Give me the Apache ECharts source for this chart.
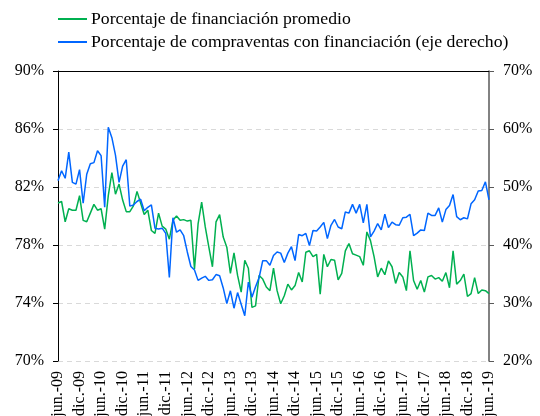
<!DOCTYPE html>
<html>
<head>
<meta charset="utf-8">
<script src="https://cdn.jsdelivr.net/npm/echarts@6/dist/echarts.min.js"></script>
<style>
html,body{margin:0;padding:0;background:#fff;}
#chart{width:540px;height:416px;}
</style>
</head>
<body>
<div id="chart"></div>
<script>
const monthNames = ['ene.','feb.','mar.','abr.','may.','jun.','jul.','ago.','sep.','oct.','nov.','dic.'];
const categories = [];
for (let i = 0; i < 121; i++) {
  const m = (5 + i) % 12;
  const y = 9 + Math.floor((5 + i) / 12);
  categories.push(monthNames[m] + '-' + String(y).padStart(2, '0'));
}

const seriesNames = ['Porcentaje de financiación promedio', 'Porcentaje de compraventas con financiación (eje derecho)'];

// Left axis (%)
const financiacionPromedio = [
  80.9, 81.0, 79.6, 80.5, 80.4, 80.4, 81.4, 79.7, 79.6, 80.2,
  80.8, 80.4, 80.5, 79.1, 81.4, 83.0, 81.5, 82.2, 81.1, 80.3,
  80.3, 80.7, 81.7, 80.9, 80.1, 80.4, 79.0, 78.8, 80.2, 79.3,
  79.1, 78.4, 79.7, 80.0, 79.7, 79.75, 79.65, 79.7, 76.35, 79.45,
  80.95, 79.25, 77.85, 76.5, 79.6, 80.1, 78.55, 77.85, 76.05, 77.45,
  75.9, 74.75, 76.95, 76.4, 73.7, 73.8, 75.9, 75.65, 75.1, 74.85,
  76.4, 74.85, 73.95, 74.5, 75.3, 74.9, 75.2, 76.1, 75.45, 77.5,
  77.6, 77.2, 77.35, 74.6, 77.35, 76.5, 77.0, 76.95, 75.6, 76.05,
  77.6, 78.1, 77.4, 77.3, 77.2, 76.6, 78.9, 78.3, 77.2, 75.8,
  76.4, 75.95, 76.9, 76.5, 75.35, 76.1, 75.8, 74.85, 77.6, 75.55,
  74.95, 75.55, 74.75, 75.8, 75.9, 75.65, 75.75, 75.5, 76.1, 75.05,
  77.6, 75.3, 75.55, 76.0, 74.45, 74.65, 75.75, 74.65, 74.9, 74.85, 74.65
];

// Right axis (%)
const compraventasFinanciacion = [
  51.1, 52.8, 51.5, 56.0, 50.8, 50.5, 53.0, 47.2, 52.2, 54.0,
  54.2, 56.25, 55.4, 46.5, 60.3, 58.5, 55.5, 50.8, 53.6, 54.7,
  46.7, 46.9, 47.5, 47.9, 45.9, 46.5, 46.9, 42.9, 42.75, 42.9,
  42.0, 34.4, 44.7, 42.2, 42.6, 41.6, 38.8, 36.3, 35.7, 33.9,
  34.3, 34.6, 33.9, 34.0, 34.9, 34.7, 32.6, 29.9, 32.1, 29.1,
  31.8, 29.8, 27.8, 33.6, 31.0, 32.8, 34.4, 37.3, 37.3, 36.5,
  38.2, 38.8, 38.6, 37.0, 38.6, 39.7, 37.3, 41.8, 41.6, 42.0,
  39.9, 42.5, 42.4, 43.1, 43.9, 41.1, 43.4, 44.4, 43.1, 42.8,
  45.7, 45.5, 47.0, 45.5, 47.0, 43.8, 47.0, 41.4, 42.4, 43.7,
  42.6, 45.3, 43.0, 43.95, 43.5, 43.4, 44.7, 44.8, 45.3, 41.6,
  42.05, 42.6, 42.5, 45.5, 45.1, 45.1, 46.4, 43.95, 46.1, 46.8,
  48.7, 44.9, 44.35, 44.7, 44.5, 47.1, 47.8, 49.3, 49.4, 50.9, 47.8
];

const FONT = '"Liberation Serif", "Times New Roman", serif';
const chart = echarts.init(document.getElementById('chart'));
chart.setOption({
  animation: false,
  backgroundColor: '#fff',
  color: ['#00B050', '#0066FF'],
  legend: {
    orient: 'vertical',
    left: 58,
    top: 10,
    padding: 0,
    icon: 'rect',
    itemWidth: 29,
    itemHeight: 2,
    itemGap: 5,
    textStyle: { fontFamily: FONT, fontSize: 17.7, color: '#000', lineHeight: 18, padding: [0, 0, 0, -1] },
    data: seriesNames
  },
  grid: { left: 58, right: 51, top: 71, bottom: 55, containLabel: false, outerBoundsMode: 'none' },
  xAxis: [{
    type: 'category',
    data: categories,
    boundaryGap: false,
    axisLine: { show: false },
    axisTick: { show: false },
    axisLabel: { interval: 5, rotate: 90, fontFamily: FONT, fontSize: 16, color: '#000', margin: 10 },
    splitLine: { show: false }
  }, {
    type: 'category',
    data: categories,
    position: 'top',
    boundaryGap: false,
    axisLine: { show: true, lineStyle: { color: '#000', width: 1 } },
    axisTick: { show: false },
    axisLabel: { show: false },
    splitLine: { show: false }
  }],
  yAxis: [{
    type: 'value',
    min: 70, max: 90, interval: 4,
    axisLine: { show: true, lineStyle: { color: '#000', width: 1 } },
    axisTick: { show: true, length: 5, lineStyle: { color: '#000' } },
    axisLabel: { formatter: '{value}%', fontFamily: FONT, fontSize: 16, color: '#000', margin: 14 },
    splitLine: { show: true, lineStyle: { color: '#d9d9d9', type: [5, 4], width: 1 } }
  }, {
    type: 'value',
    min: 20, max: 70, interval: 10,
    position: 'right',
    axisLine: { show: true, lineStyle: { color: '#595959', width: 1.5 } },
    axisTick: { show: true, length: 5, lineStyle: { color: '#595959' } },
    axisLabel: { formatter: '{value}%', fontFamily: FONT, fontSize: 16, color: '#000', margin: 14 },
    splitLine: { show: false }
  }],
  series: [{
    name: seriesNames[0],
    type: 'line',
    yAxisIndex: 0,
    data: financiacionPromedio,
    symbol: 'none',
    lineStyle: { width: 1.5, color: '#00B050' }
  }, {
    name: seriesNames[1],
    type: 'line',
    yAxisIndex: 1,
    data: compraventasFinanciacion,
    symbol: 'none',
    lineStyle: { width: 1.5, color: '#0066FF' }
  }]
});
</script>
</body>
</html>
